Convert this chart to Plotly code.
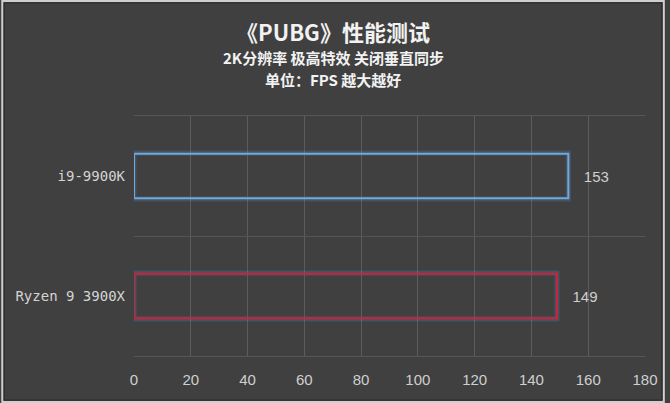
import plotly.graph_objects as go

cpus = ["Ryzen 9 3900X", "i9-9900K"]
fps = [149, 153]
edge_colors = ["#c8233f", "#6ea8dc"]
x_ticks = [0, 20, 40, 60, 80, 100, 120, 140, 160, 180]
title_lines = ["《PUBG》性能测试", "2K分辨率 极高特效 关闭垂直同步", "单位：FPS 越大越好"]

bg = "#404040"
W, H = 670, 403
L, R, T, B = 134, 20, 116, 47
pw, ph = W - L - R, H - T - B


def px(x):
    return (x - L) / pw


def py(y):
    return (H - B - y) / ph


fig = go.Figure()
# soft glow under the outline
fig.add_trace(go.Bar(
    y=cpus, x=fps, orientation="h", width=0.385,
    marker=dict(color="rgba(0,0,0,0)", line=dict(color="rgba(90,150,210,0.22)", width=5)),
    hoverinfo="skip", showlegend=False,
))
fig.add_trace(go.Bar(
    y=cpus, x=fps, orientation="h", width=0.37,
    marker=dict(color="rgba(0,0,0,0)", line=dict(color=edge_colors, width=2)),
    text=["   " + str(v) for v in fps], textposition="outside", cliponaxis=False,
    textfont=dict(family="Liberation Sans", size=15, color="#cfcfcf"),
    showlegend=False,
))

fig.update_layout(
    width=W, height=H, barmode="overlay",
    margin=dict(l=L, r=R, t=T, b=B),
    paper_bgcolor=bg, plot_bgcolor=bg,
    xaxis=dict(range=[0, 180], tickvals=x_ticks, showgrid=True, gridcolor="#5c5c5c", gridwidth=1,
               zeroline=False, showline=True, mirror=True, linecolor="#555555", linewidth=1,
               ticks="", ticklabelstandoff=10,
               tickfont=dict(family="Liberation Sans", size=15, color="#cfcfcf")),
    yaxis=dict(type="category", tickson="boundaries", showgrid=True, gridcolor="#555555",
               ticks="", showline=False, ticklabelstandoff=8,
               tickfont=dict(family="DejaVu Sans Mono", size=14, color="#d4d4d4")),
    font=dict(family="Noto Sans CJK SC"),
)

# three title lines
for txt, size, y in zip(title_lines, [22, 15, 15], [31, 57, 79]):
    fig.add_annotation(text="<b>" + txt + "</b>", xref="paper", yref="paper",
                       x=px(W / 2), y=py(y), xanchor="center", yanchor="middle",
                       showarrow=False,
                       font=dict(family="Noto Sans CJK SC", size=size, color="#f2f2f2"))

# picture frame
fig.add_shape(type="rect", xref="paper", yref="paper",
              x0=px(1), x1=px(W - 1), y0=py(H - 1), y1=py(1),
              line=dict(color="#cfcfcf", width=2), layer="above")
fig.add_shape(type="rect", xref="paper", yref="paper",
              x0=px(3), x1=px(W - 3), y0=py(H - 3), y1=py(3),
              line=dict(color="#2a2a2a", width=1), layer="above")

fig.write_html("out.html", config={"displayModeBar": False},
               post_script="document.body.style.margin='0';")
